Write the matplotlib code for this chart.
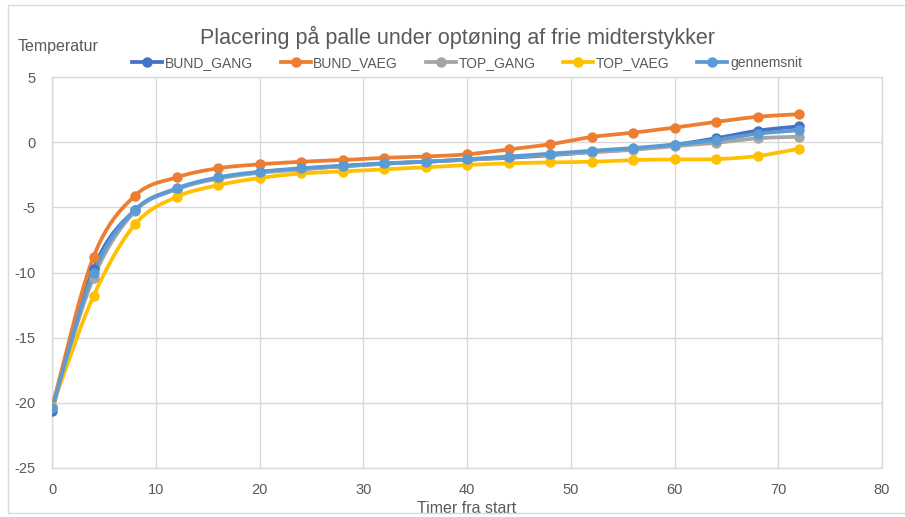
import numpy as np
import matplotlib.pyplot as plt
from matplotlib.patches import Rectangle

# Målinger hver 4. time
timer = [0, 4, 8, 12, 16, 20, 24, 28, 32, 36, 40, 44, 48, 52, 56, 60, 64, 68, 72]

bund_gang = [-20.6, -9.7, -5.2, -3.6, -2.75, -2.3, -2.05, -1.85, -1.65, -1.5, -1.35,
             -1.2, -1.0, -0.75, -0.55, -0.2, 0.3, 0.88, 1.22]
bund_vaeg = [-20.3, -8.8, -4.1, -2.7, -2.0, -1.7, -1.5, -1.37, -1.2, -1.1, -0.93,
             -0.55, -0.16, 0.4, 0.73, 1.12, 1.56, 1.95, 2.15]
top_gang = [-20.3, -10.4, -5.3, -3.6, -2.8, -2.35, -2.1, -1.85, -1.65, -1.5, -1.35,
            -1.15, -0.95, -0.78, -0.58, -0.3, -0.05, 0.3, 0.42]
top_vaeg = [-20.3, -11.8, -6.3, -4.2, -3.3, -2.75, -2.4, -2.25, -2.08, -1.93, -1.75,
            -1.62, -1.55, -1.5, -1.37, -1.32, -1.3, -1.06, -0.5]
gennemsnit = [-20.4, -10.0, -5.2, -3.55, -2.7, -2.27, -2.0, -1.8, -1.62, -1.5, -1.31,
              -1.1, -0.88, -0.66, -0.45, -0.18, 0.17, 0.65, 0.92]

serier = [
    ("BUND_GANG", bund_gang, "#4472C4"),
    ("BUND_VAEG", bund_vaeg, "#ED7D31"),
    ("TOP_GANG", top_gang, "#A5A5A5"),
    ("TOP_VAEG", top_vaeg, "#FFC000"),
    ("gennemsnit", gennemsnit, "#5B9BD5"),
]


def glat(x, y, n=20):
    """Catmull-Rom kurve gennem punkterne (som Excels udjævnede linjer)"""
    p = np.column_stack([x, y]).astype(float)
    p = np.vstack([2 * p[0] - p[1], p, 2 * p[-1] - p[-2]])
    ud = []
    s = np.linspace(0, 1, n, endpoint=False)[:, None]
    for i in range(1, len(p) - 2):
        p0, p1, p2, p3 = p[i - 1], p[i], p[i + 1], p[i + 2]
        seg = 0.5 * ((2 * p1) + (-p0 + p2) * s + (2 * p0 - 5 * p1 + 4 * p2 - p3) * s ** 2
                     + (-p0 + 3 * p1 - 3 * p2 + p3) * s ** 3)
        ud.append(seg)
    ud.append(p[-2][None, :])
    ud = np.vstack(ud)
    return ud[:, 0], ud[:, 1]


plt.rcParams['font.family'] = ['Liberation Sans', 'DejaVu Sans']
plt.rcParams['axes.unicode_minus'] = False
graa = '#595959'

fig = plt.figure(figsize=(9.05, 5.17), dpi=100)
ax = fig.add_axes([0.0575, 0.0948, 0.9171, 0.7562])

for navn, v, farve in serier:
    gx, gy = glat(timer, v)
    ax.plot(gx, gy, color=farve, lw=2.7, solid_capstyle='round', zorder=3)
    ax.plot(timer, v, 'o', color=farve, ms=6.5, zorder=4)
    ax.plot([], [], '-o', color=farve, lw=2.7, ms=6.5, label=navn)

ax.set_xlim(0, 80)
ax.set_ylim(-25, 5)
ax.set_xticks(range(0, 81, 10))
ax.set_yticks(range(-25, 6, 5))
ax.grid(True, color='#D9D9D9', lw=1)
ax.set_axisbelow(True)
ax.tick_params(length=0, colors=graa, labelsize=10.5)
ax.tick_params(axis='x', pad=11)
ax.tick_params(axis='y', pad=12)
for s in ax.spines.values():
    s.set_color('#D9D9D9')
    s.set_linewidth(1)

ax.set_xlabel('Timer fra start', color=graa, fontsize=11.5, labelpad=3)
fig.text(0.02, 0.91, 'Temperatur', color=graa, fontsize=11.5, va='center', ha='left')
fig.text(0.505, 0.928, 'Placering på palle under optøning af frie midterstykker',
         color=graa, fontsize=15.5, ha='center', va='center')

ax.legend(loc='lower center', bbox_to_anchor=(0.5, 1.0), ncol=5, frameon=False,
          fontsize=10, labelcolor=graa, handlelength=2.15, columnspacing=2.0,
          handletextpad=0.2, borderaxespad=0.1)

# ramme rundt om hele diagrammet
fig.patches.append(Rectangle((0.009, 0.008), 1.2, 0.982, transform=fig.transFigure,
                             fill=False, edgecolor='#D9D9D9', lw=1))

fig.savefig('out.png', dpi=100)
